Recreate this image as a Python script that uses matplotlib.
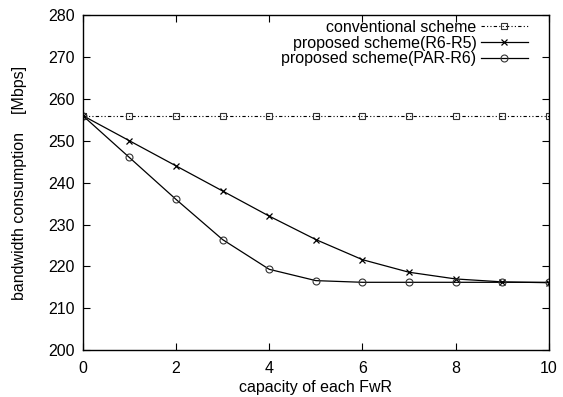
import matplotlib
matplotlib.use("Agg")
import matplotlib.pyplot as plt

plt.rcParams['font.family'] = ['Liberation Sans', 'DejaVu Sans']

# data
capacity = [0, 1, 2, 3, 4, 5, 6, 7, 8, 9, 10]
conventional = [256, 256, 256, 256, 256, 256, 256, 256, 256, 256, 256]
r6_r5 = [256, 250, 244, 238, 232, 226.4, 221.6, 218.6, 217, 216.3, 216.1]
par_r6 = [256, 246, 236, 226.4, 219.3, 216.6, 216.2, 216.2, 216.2, 216.2, 216.2]

fig = plt.figure(figsize=(5.63, 3.97), dpi=100)
ax = fig.add_axes([0.147, 0.118, 0.828, 0.844])

ax.plot(capacity, conventional, color='black', linewidth=0.8,
        dashes=(3, 2, 1, 2, 1, 2), marker='s', markersize=4.5,
        markerfacecolor='none', markeredgecolor='#333333', markeredgewidth=0.8,
        label='conventional scheme')
ax.plot(capacity, r6_r5, color='black', linewidth=0.9, marker='x',
        markersize=5, markeredgewidth=0.9, label='proposed scheme(R6-R5)')
ax.plot(capacity, par_r6, color='black', linewidth=0.9, marker='o',
        markersize=5, markerfacecolor='none', markeredgecolor='#333333',
        markeredgewidth=0.8, label='proposed scheme(PAR-R6)')

ax.set_xlim(0, 10)
ax.set_ylim(200, 280)
ax.set_xticks([0, 2, 4, 6, 8, 10])
ax.set_yticks(range(200, 281, 10))
ax.tick_params(direction='in', top=True, right=True, length=5, width=0.8,
               labelsize=11.5)
ax.tick_params(axis='x', pad=8)
ax.tick_params(axis='y', pad=6)
for s in ax.spines.values():
    s.set_linewidth(1.0)

ax.set_xlabel('capacity of each FwR', fontsize=11.5, labelpad=3)
ax.set_ylabel('bandwidth consumption    [Mbps]', fontsize=11.5, labelpad=15)

ax.legend(loc='upper right', bbox_to_anchor=(0.968, 1.005), frameon=False,
          markerfirst=False, fontsize=11.5, handlelength=2.9, borderaxespad=0.0,
          labelspacing=0.05, handletextpad=0.3)

fig.savefig('out.png', dpi=100)
